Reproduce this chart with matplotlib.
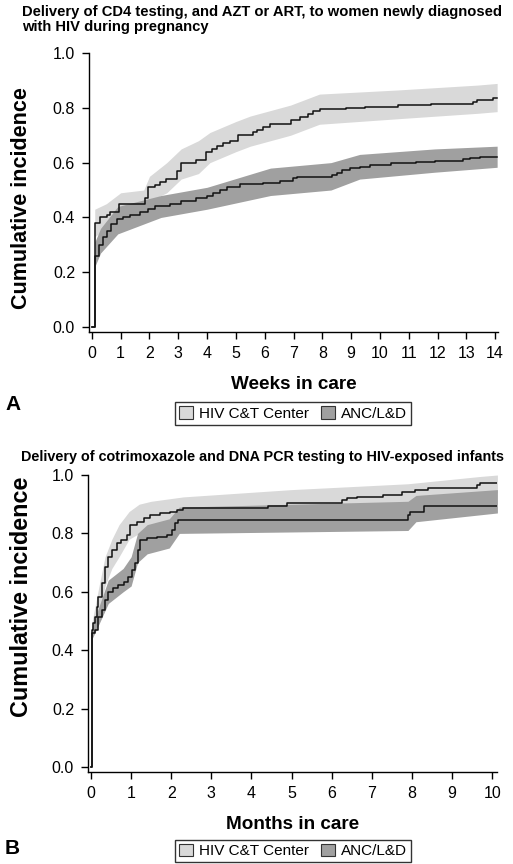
import matplotlib
matplotlib.use("Agg")
import matplotlib.pyplot as plt
from matplotlib.patches import Patch
import numpy as np

plt.rcParams['font.family'] = ['Liberation Sans', 'DejaVu Sans']

# ---------------- Panel A data (weeks) ----------------
a_hiv_t = [0, 0.10, 0.28, 0.51, 0.63, 0.95, 1.84, 1.96, 2.19, 2.36, 2.59, 2.94, 3.11, 3.63,
           3.96, 4.16, 4.33, 4.56, 4.79, 5.08, 5.60, 5.72, 5.95, 6.18, 6.93, 7.22, 7.51,
           7.69, 7.92, 8.84, 9.48, 10.64, 11.79, 13.24, 13.36, 13.93, 14.07]
a_hiv_v = [0, 0.38, 0.40, 0.41, 0.42, 0.45, 0.47, 0.51, 0.52, 0.53, 0.54, 0.57, 0.60, 0.61,
           0.64, 0.65, 0.66, 0.67, 0.68, 0.70, 0.71, 0.72, 0.73, 0.74, 0.755, 0.767, 0.779,
           0.787, 0.794, 0.800, 0.803, 0.809, 0.815, 0.822, 0.828, 0.834, 0.834]
a_anc_t = [0, 0.10, 0.25, 0.39, 0.53, 0.68, 0.86, 1.09, 1.32, 1.67, 1.96, 2.19, 2.71, 3.11,
           3.63, 3.98, 4.21, 4.44, 4.68, 5.14, 5.95, 6.53, 6.99, 7.11, 8.32, 8.50, 8.67,
           8.96, 9.31, 9.65, 10.40, 11.27, 11.91, 12.89, 13.13, 13.47, 14.07]
a_anc_v = [0, 0.26, 0.30, 0.33, 0.35, 0.375, 0.395, 0.40, 0.41, 0.42, 0.43, 0.44, 0.45, 0.46,
           0.47, 0.48, 0.49, 0.50, 0.51, 0.522, 0.527, 0.534, 0.543, 0.549, 0.555, 0.563, 0.573,
           0.579, 0.585, 0.591, 0.597, 0.601, 0.607, 0.612, 0.616, 0.619, 0.619]
a_hiv_ci_t = [0.10, 0.5, 1.0, 1.8, 2.0, 2.6, 3.1, 3.7, 4.1, 5.0, 5.5, 6.2, 6.9, 7.9, 10.6, 13.4, 14.07]
a_hiv_ci_lo = [0.33, 0.36, 0.40, 0.42, 0.46, 0.49, 0.54, 0.56, 0.60, 0.64, 0.66, 0.68, 0.70, 0.74, 0.76, 0.78, 0.786]
a_hiv_ci_hi = [0.43, 0.45, 0.49, 0.50, 0.55, 0.60, 0.65, 0.68, 0.71, 0.75, 0.77, 0.79, 0.81, 0.85, 0.865, 0.883, 0.889]
a_anc_ci_t = [0.10, 0.3, 0.9, 2.4, 4.0, 6.2, 8.3, 9.3, 11.9, 14.07]
a_anc_ci_lo = [0.22, 0.27, 0.34, 0.40, 0.43, 0.48, 0.50, 0.54, 0.565, 0.583]
a_anc_ci_hi = [0.31, 0.36, 0.44, 0.48, 0.51, 0.58, 0.60, 0.63, 0.65, 0.66]

# ---------------- Panel B data (months) ----------------
b_hiv_t = [0, 0.03, 0.058, 0.10, 0.14, 0.18, 0.27, 0.35, 0.43, 0.52, 0.64, 0.76, 0.89, 0.97,
           1.14, 1.31, 1.47, 1.72, 1.97, 2.14, 2.30, 4.42, 4.88, 6.25, 6.38, 6.63, 7.29,
           7.75, 8.08, 8.41, 9.62, 9.70, 10.13]
b_hiv_v = [0, 0.47, 0.492, 0.515, 0.549, 0.583, 0.629, 0.686, 0.720, 0.743, 0.766, 0.777,
           0.795, 0.829, 0.840, 0.852, 0.863, 0.869, 0.874, 0.880, 0.886, 0.894, 0.905,
           0.914, 0.920, 0.926, 0.932, 0.943, 0.949, 0.954, 0.966, 0.974, 0.974]
b_anc_t = [0, 0.03, 0.10, 0.18, 0.27, 0.35, 0.43, 0.56, 0.68, 0.81, 0.93, 1.01, 1.10, 1.16,
           1.22, 1.39, 1.64, 1.89, 2.01, 2.09, 2.18, 7.91, 7.96, 8.29, 10.13]
b_anc_v = [0, 0.458, 0.47, 0.515, 0.537, 0.572, 0.60, 0.612, 0.623, 0.634, 0.652, 0.674,
           0.697, 0.743, 0.777, 0.783, 0.789, 0.795, 0.812, 0.834, 0.846, 0.863, 0.874,
           0.894, 0.894]
b_hiv_ci_t = [0.03, 0.2, 0.35, 0.52, 0.7, 0.95, 1.2, 1.5, 2.3, 5.0, 7.9, 9.7, 10.13]
b_hiv_ci_lo = [0.45, 0.52, 0.62, 0.68, 0.72, 0.78, 0.80, 0.83, 0.86, 0.87, 0.89, 0.93, 0.94]
b_hiv_ci_hi = [0.50, 0.62, 0.72, 0.78, 0.83, 0.875, 0.90, 0.91, 0.925, 0.95, 0.97, 0.995, 1.0]
b_anc_ci_t = [0.03, 0.2, 0.43, 0.8, 1.0, 1.16, 1.4, 1.95, 2.2, 7.9, 8.1, 10.13]
b_anc_ci_lo = [0.44, 0.49, 0.56, 0.60, 0.62, 0.70, 0.73, 0.75, 0.80, 0.81, 0.84, 0.87]
b_anc_ci_hi = [0.48, 0.55, 0.64, 0.68, 0.72, 0.80, 0.83, 0.85, 0.89, 0.91, 0.93, 0.95]

labels = ["HIV C&T Center", "ANC/L&D"]
light = "#d9d9d9"
dark = "#a0a0a0"

W, H = 513, 864
fig = plt.figure(figsize=(W / 100, H / 100), dpi=100)


def make_axes(l, t, r, b):
    return fig.add_axes([l / W, 1 - b / H, (r - l) / W, (b - t) / H])


def style(ax, xmax_tick, xlim, ylim, ylabel_size, label_xy):
    for s in ("top", "right"):
        ax.spines[s].set_visible(False)
    for s in ("left", "bottom"):
        ax.spines[s].set_linewidth(1.0)
    ax.set_xlim(*xlim)
    ax.set_ylim(*ylim)
    ax.set_xticks(range(0, xmax_tick + 1))
    ax.set_yticks([0, 0.2, 0.4, 0.6, 0.8, 1.0])
    ax.set_yticklabels(["0.0", "0.2", "0.4", "0.6", "0.8", "1.0"])
    ax.tick_params(direction="out", length=5, width=1.0, labelsize=11.5, pad=5)
    ax.set_ylabel("Cumulative incidence", fontsize=ylabel_size, fontweight="bold", va="center")
    ax.yaxis.set_label_coords(*label_xy)


def draw(ax, hct, hlo, hhi, act, alo, ahi, ht, hv, at, av):
    ax.fill_between(hct, hlo, hhi, color=light, lw=0, zorder=1)
    ax.fill_between(act, alo, ahi, color=dark, lw=0, zorder=2)
    ax.step(ht, hv, where="post", color="#111111", lw=1.1, zorder=3)
    ax.step(at, av, where="post", color="#111111", lw=1.1, zorder=3)


# Panel A
axA = make_axes(89, 53, 498, 332)
draw(axA, a_hiv_ci_t, a_hiv_ci_lo, a_hiv_ci_hi, a_anc_ci_t, a_anc_ci_lo, a_anc_ci_hi,
     a_hiv_t, a_hiv_v, a_anc_t, a_anc_v)
style(axA, 14, (-0.1, 14.1), (-0.018, 1.0), 15.5, (-(89 - 22) / 409, (332 - 198) / 279))
axA.set_xlabel("Weeks in care", fontsize=13.6, fontweight="bold", labelpad=11)

# Panel B
axB = make_axes(88, 475, 497, 772)
draw(axB, b_hiv_ci_t, b_hiv_ci_lo, b_hiv_ci_hi, b_anc_ci_t, b_anc_ci_lo, b_anc_ci_hi,
     b_hiv_t, b_hiv_v, b_anc_t, b_anc_v)
style(axB, 10, (-0.075, 10.12), (-0.017, 1.0), 16.8, (-(88 - 22) / 409, (772 - 597) / 297))
axB.set_xlabel("Months in care", fontsize=13.6, fontweight="bold", labelpad=11)

# Titles
fig.text(22 / W, 1 - 5 / H, "Delivery of CD4 testing, and AZT or ART, to women newly diagnosed\nwith HIV during pregnancy",
         fontsize=10.6, fontweight="bold", ha="left", va="top", linespacing=1.1)
fig.text(21 / W, 1 - 457 / H, "Delivery of cotrimoxazole and DNA PCR testing to HIV-exposed infants",
         fontsize=10.35, fontweight="bold", ha="left", va="center")

# Panel letters
fig.text(5 / W, 1 - 405 / H, "A", fontsize=15, fontweight="bold", ha="left", va="center")
fig.text(5 / W, 1 - 848 / H, "B", fontsize=15, fontweight="bold", ha="left", va="center")

# Legends
handles = [Patch(facecolor=light, edgecolor="#333333", lw=0.8),
           Patch(facecolor=dark, edgecolor="#333333", lw=0.8)]
for yc in (413.5, 851):
    leg = fig.legend(handles, labels, loc="center", bbox_to_anchor=(293 / W, 1 - yc / H),
                     ncol=2, frameon=True, fancybox=False, fontsize=11,
                     handlelength=0.9, handleheight=0.9, handletextpad=0.4,
                     columnspacing=0.8, borderpad=0.25, borderaxespad=0)
    leg.get_frame().set_edgecolor("black")
    leg.get_frame().set_linewidth(1.0)

fig.savefig("out.png", dpi=100)
